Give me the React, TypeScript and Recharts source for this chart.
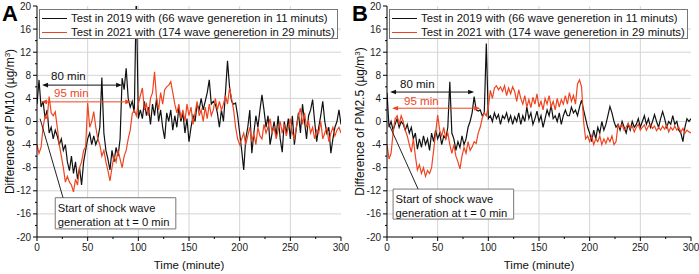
import React from "react";
import {
  LineChart,
  Line,
  XAxis,
  YAxis,
  CartesianGrid,
  ReferenceLine,
  ReferenceArea,
  Legend,
} from "recharts";

const FONT = '"Liberation Sans", Arial, Helvetica, sans-serif';
const BLACK = "#111111";
const ORANGE = "#f0441f";

const STEP = 2; // minutes between samples
const NAME_2019 = "Test in 2019 with (66 wave generetion in 11 minuts)";
const NAME_2021 = "Test in 2021 with (174 wave generetion in 29 minuts)";

// Panel A - PM10
const PM10_2019 = [
  3, 7.2, 2.5, 3.5, 0.5, 2, -2, -1, -3, -1.5,
  -2.5, -4, -3, -5, -4, -7, -8.5, -6, -9, -7,
  -10, -8, -11, -7, -5, -3, -2, -4, -2.5, -4,
  -3, -1, 7.6, -2, -5, -6.5, -8.4, -5, -7, -4.5,
  -6, -3, 7.5, 5.5, 9.2, 4, 2.5, 3.5, 1.5, 22,
  0.5, 2, 0.5, 3.5, 1, 2.5, -0.5, 3, 1, 4,
  0, 2, -1, -3, 1.5, 0, 2, -1.5, 1, -1,
  2.5, 0, 1.5, -2, 0.5, -3.5, -1, 1, 0, 3,
  2, 4, 2, 3.5, 5, 7.2, 3, 3.5, 3, 1.5,
  -1, 2, 0, 5, 10.5, 6, 3.5, 3, 3.2, 1,
  -2, -5, -8.4, -3, -1, 2, -5.5, -2, 1, -1,
  2, 4.6, 2, -1, 1, -4, -2, 0, -2.5, 1,
  -3, -5.3, 0, -2, 0.5, -3, 1, -4, -1, 1.5,
  -2, 3, 0, -3, 1, 2, 3.8, 0, -3.5, -1,
  1, 3.5, 0, -2, -1, -5.5, -3, -1, 0, 2,
  -0.5,
];
const PM10_2021 = [
  -4, -5.5, -4.5, -1, 1, 0.5, 4.3, 1.5, 1, 1.7,
  -1, -4, -6, -8, -10.5, -9.5, -10.5, -11, -12.2, -10,
  -11, -8, -7, -5, -4.4, 3.2, -1, 0, 1.7, -1,
  -3, -4, -6, -5, -7, -8.5, -10.3, -8, -6, -7,
  -5, -6.5, -8, -6, -5, -3, -1.5, 1.4, 2, 1,
  3, 4.5, 5.8, 2, 3, 1, 4, 5, 8.6, 4,
  2, 5, 3, 5.5, 6, 6.3, 6.9, 5, 3, 1.5,
  3, 0.5, 2, 0, 3, 1, 2.5, -0.5, 1.5, 3.5,
  1, 2, 0, 2.5, 0.5, 3, 1, 2, 4, 2,
  3.5, 2, 3, 4.5, 3, 5.8, 4, 2, -1, -3,
  -4, -3, -2, -4, -2.5, -1, -3.5, -2, -4, -1,
  -2.5, -3, -0.5, -2, -1, 0.5, -2, -1, -3, -1.5,
  0, -2, -0.5, -2.5, -1, 0.5, -2, -3, -1, 1,
  2.3, -0.5, 1.5, -1, 0, -2, -1, -3, -1.5, -2,
  0, -3, -2, -1, -3.5, -2, -1, -2.5, -1.5, -1,
  -2,
];

// Panel B - PM2.5
const PM25_2019 = [
  5, -1, 0, -1.5, -0.5, 0.5, -1, 0, -0.5, -1.5,
  -0.5, -2, -1, -3, -2, -4.8, -3, -4.5, -2.5, -4,
  -3, -5, -2, -3.5, -1.5, -3, -2, -4, -2.5, -3,
  -1, 6.9, -2, -3, -5, -3.5, -4.5, -2.5, -4, -3,
  -1, 0, 1.5, 4.3, 2, 1.8, 2, 1, 1.5, 13.5,
  0.5, 1, 0, 1.5, 0.5, 1.2, -0.5, 1, 0.5, 1.5,
  0, 1, -0.5, 0.8, 0, 1.5, -0.5, 1, 0, 2.5,
  0.5, 1.5, -0.5, 0.5, 1.8, 0, 1, -1, 0.5, 2,
  1, 2.8, 0.5, 1, 0, 1.5, -0.5, 1, 2, 1,
  1, 2.5, 1.5, 2, 1, 2.5, 3.7, 2, 0.5, -1,
  -2, -3.5, -1.5, -3, -1, -2, 0, -1.5, -0.5, 1,
  2.6, 1.5, 0, -1, -0.5, -1.5, 0, -1, -2, -0.5,
  -1.5, 0, -1, -0.5, 0.5, -1, 0, 1, -0.5, 0.5,
  -1, 0, 1.2, 0, -1, 0.5, 1.7, 0.5, -1, 0,
  -0.5, 1, -0.5, 0, -1.5, -2, -3.5, -1, 0.5, 0,
  0.5,
];
const PM25_2021 = [
  -4, -6.5, -5.5, -2, 0.5, 1, -0.5, 1, 0, -1.5,
  -2.5, -4, -5.3, -3, -6, -8.4, -7.5, -9, -8, -9.5,
  -8.5, -9, -8, -5, -2, 1.1, -1.5, -2.5, -1, -3,
  -2, -4, -5.5, -4, -6, -7, -8.2, -6, -4.5, -5.5,
  -3.5, -5, -4.4, -3.5, -3.8, -2, -1, 0.6, 1.5, 1,
  2.5, 5.4, 4, 5.8, 6.2, 5.5, 6, 5.2, 6.2, 4.5,
  5.8, 4.8, 6, 5.2, 3.5, 5.5, 4, 3, 4.5, 2.5,
  3.8, 2.4, 4.2, 3, 4.8, 2.5, 3.5, 2, 4, 3,
  4.5, 2.5, 3.5, 2, 4, 2.5, 3.8, 3, 4.5, 3,
  5, 3.5, 4.5, 3, 6.5, 7.2, 6, 0, -3, -2.5,
  -3.5, -2.5, -4, -3, -3.5, -2.5, -4, -3, -3.8, -2.8,
  -3.5, -2.5, -4, -3.5, -0.6, -1, -0.5, -1.5, -1, -0.3,
  -1.2, -0.8, -1.8, -1, -0.5, -1.5, -1, -0.6, -1.5, -0.8,
  -0.5, -1.2, -0.8, -1.6, -1, -1.5, -0.8, -1.3, -0.6, -1.8,
  -1, -1.5, -0.8, -1.5, -1, -1.8, -1.2, -2, -1.5, -1.8,
  -2,
];

const Y_TICKS = [-20, -18, -16, -14, -12, -10, -8, -6, -4, -2, 0, 2, 4, 6, 8, 10, 12, 14, 16, 18, 20];
const Y_GRID = [-16, -12, -8, -4, 0, 4, 8, 12, 16];
const X_TICKS = [0, 25, 50, 75, 100, 125, 150, 175, 200, 225, 250, 275, 300];
const X_GRID = [50, 100, 150, 200, 250];
const Y_MAJOR = [-20, -16, -12, -8, -4, 0, 4, 8, 12, 16, 20];
const X_MAJOR = [0, 50, 100, 150, 200, 250, 300];

const buildRows = (a: number[], b: number[]) =>
  a.map((v, i) => ({ t: i * STEP, y2019: v, y2021: b[i] }));

const YTick = (p: any) => {
  const { x, y, payload } = p;
  const major = payload.value % 4 === 0;
  return (
    <g>
      <line x1={x} x2={x - (major ? 4 : 2)} y1={y} y2={y} stroke="#000" />
      {major && (
        <text x={x - 6} y={y} dy={3.5} textAnchor="end" fontSize={10} fill="#222">
          {payload.value}
        </text>
      )}
    </g>
  );
};

const XTick = (p: any) => {
  const { x, y, payload } = p;
  const major = payload.value % 50 === 0;
  return (
    <g>
      <line x1={x} x2={x} y1={y} y2={y + (major ? 4 : 2)} stroke="#000" />
      {major && (
        <text x={x} y={y + 14} textAnchor="middle" fontSize={10} fill="#222">
          {payload.value}
        </text>
      )}
    </g>
  );
};

const TopTick = (p: any) =>
  X_MAJOR.includes(p.payload.value) ? (
    <line x1={p.x} x2={p.x} y1={p.y} y2={p.y + 3} stroke="#000" />
  ) : (
    <g />
  );

const RightTick = (p: any) =>
  Y_MAJOR.includes(p.payload.value) ? (
    <line x1={p.x} x2={p.x - 3} y1={p.y} y2={p.y} stroke="#000" />
  ) : (
    <g />
  );

const arrowShape = (a: any) => (p: any) => {
  const { x1, y1, x2, y2 } = p;
  const h = 6;
  const w = 2.3;
  return (
    <g>
      <line x1={x1 + 2} y1={y1} x2={x2 - 2} y2={y2} stroke={a.color} strokeWidth={1} />
      <path d={`M${x1},${y1} L${x1 + h},${y1 - w} L${x1 + h},${y1 + w} Z`} fill={a.color} />
      <path d={`M${x2},${y2} L${x2 - h},${y2 - w} L${x2 - h},${y2 + w} Z`} fill={a.color} />
      <text x={x1 + a.dx} y={y1 + a.dy} fill={a.color} fontSize={11.5}>
        {a.text}
      </text>
    </g>
  );
};

const LegendBox = (props: any) => (
  <div
    style={{
      width: 299,
      height: 30,
      boxSizing: "border-box",
      border: "1px solid #777",
      background: "#fff",
      fontSize: 11.3,
      color: "#111",
      paddingTop: 1,
    }}
  >
    {(props.payload || []).map((e: any) => (
      <div key={e.value} style={{ display: "flex", alignItems: "center", height: 14, whiteSpace: "nowrap" }}>
        <span style={{ display: "inline-block", width: 25, borderTop: `1.2px solid ${e.color}`, margin: "0 4px 0 2px" }} />
        <span>{e.value}</span>
      </div>
    ))}
  </div>
);

const Panel = ({ letter, species, rows, arrows, callout }: any) => {
  const yLabel = (p: any) => {
    const cy = p.viewBox.y + p.viewBox.height / 2;
    return (
      <text x={13.5} y={cy} transform={`rotate(-90, 13.5, ${cy})`} textAnchor="middle" fontSize={12} fill="#111">
        {`Difference of ${species} (µg/m`}
        <tspan dy={-4} fontSize={8}>3</tspan>
        <tspan dy={4}>)</tspan>
      </text>
    );
  };
  const xLabel = (p: any) => (
    <text x={p.viewBox.x + p.viewBox.width / 2} y={p.viewBox.y + 32} textAnchor="middle" fontSize={11.5} fill="#111">
      Time (minute)
    </text>
  );
  const calloutLabel = (p: any) => {
    const { x, y } = p.viewBox;
    return (
      <text fontSize={11.2} fill="#111">
        <tspan x={x + 2.5} y={y + 14}>Start of shock wave</tspan>
        <tspan x={x + 2.5} y={y + 28}>generation at t = 0 min</tspan>
      </text>
    );
  };

  return (
    <div style={{ position: "relative", width: 349, height: 274 }}>
      <LineChart width={349} height={274} data={rows} margin={{ top: 6, right: 8, left: 0, bottom: 0 }}>
        <CartesianGrid stroke="#d4d4d4" horizontalValues={Y_GRID} verticalValues={X_GRID} />
        <XAxis
          dataKey="t"
          type="number"
          domain={[0, 300]}
          allowDataOverflow
          ticks={X_TICKS}
          interval={0}
          height={37}
          stroke="#000"
          tickLine={false}
          tickSize={0}
          tickMargin={0}
          tick={<XTick />}
          label={xLabel}
        />
        <XAxis
          xAxisId="top"
          orientation="top"
          dataKey="t"
          type="number"
          domain={[0, 300]}
          allowDataOverflow
          ticks={X_TICKS}
          interval={0}
          height={0}
          stroke="#000"
          tickLine={false}
          tickSize={0}
          tickMargin={0}
          tick={<TopTick />}
        />
        <YAxis
          type="number"
          domain={[-20, 20]}
          allowDataOverflow
          ticks={Y_TICKS}
          interval={0}
          width={37}
          stroke="#000"
          tickLine={false}
          tickSize={0}
          tickMargin={0}
          tick={<YTick />}
          label={yLabel}
        />
        <YAxis
          yAxisId="right"
          orientation="right"
          type="number"
          domain={[-20, 20]}
          allowDataOverflow
          ticks={Y_TICKS}
          interval={0}
          width={0}
          stroke="#000"
          tickLine={false}
          tickSize={0}
          tickMargin={0}
          tick={<RightTick />}
        />
        <Line
          dataKey="y2019"
          name={NAME_2019}
          stroke={BLACK}
          strokeWidth={1.2}
          dot={false}
          type="linear"
          isAnimationActive={false}
        />
        <Line
          dataKey="y2021"
          name={NAME_2021}
          stroke={ORANGE}
          strokeWidth={1.2}
          dot={false}
          type="linear"
          isAnimationActive={false}
        />
        {arrows.map((a: any) => (
          <ReferenceLine
            key={a.text}
            segment={[
              { x: a.from, y: a.y },
              { x: a.to, y: a.y },
            ]}
            shape={arrowShape(a)}
          />
        ))}
        <ReferenceLine
          segment={[
            { x: callout.lineFrom[0], y: callout.lineFrom[1] },
            { x: callout.lineTo[0], y: callout.lineTo[1] },
          ]}
          stroke="#222"
          strokeWidth={1}
        />
        <ReferenceArea
          x1={callout.x1}
          x2={callout.x2}
          y1={callout.y1}
          y2={callout.y2}
          fill="#fff"
          fillOpacity={1}
          stroke="#777"
          strokeWidth={1}
          label={calloutLabel}
        />
        <Legend
          layout="horizontal"
          verticalAlign="middle"
          align="center"
          wrapperStyle={{ top: 9, left: 39, width: 299, height: 30 }}
          content={<LegendBox />}
        />
      </LineChart>
      <div
        style={{
          position: "absolute",
          left: 2,
          top: 3,
          fontSize: 22,
          lineHeight: "22px",
          fontWeight: "bold",
          color: "#000",
        }}
      >
        {letter}
      </div>
    </div>
  );
};

const ARROWS_A = [
  { from: 5, to: 84, y: 6.3, text: "80 min", color: BLACK, dx: 9, dy: -5 },
  { from: 4, to: 93, y: 3.4, text: "95 min", color: ORANGE, dx: 13, dy: -5 },
];
const ARROWS_B = [
  { from: 3, to: 86, y: 5.1, text: "80 min", color: BLACK, dx: 10, dy: -4 },
  { from: 5, to: 92, y: 2.3, text: "95 min", color: ORANGE, dx: 12, dy: -3 },
];
const CALLOUT_A = { x1: 18, x2: 137, y1: -18.6, y2: -13.2, lineFrom: [25.7, -13.2], lineTo: [3, 0.5] };
const CALLOUT_B = { x1: 6, x2: 125, y1: -16.9, y2: -11.7, lineFrom: [30.7, -11.7], lineTo: [2, -0.5] };

export default function App() {
  return (
    <div
      style={{
        position: "absolute",
        left: 0,
        top: 0,
        width: 699,
        height: 274,
        background: "#fff",
        fontFamily: FONT,
      }}
    >
      <div style={{ position: "absolute", left: 0, top: 0 }}>
        <Panel letter="A" species="PM10" rows={buildRows(PM10_2019, PM10_2021)} arrows={ARROWS_A} callout={CALLOUT_A} />
      </div>
      <div style={{ position: "absolute", left: 350, top: 0 }}>
        <Panel letter="B" species="PM2.5" rows={buildRows(PM25_2019, PM25_2021)} arrows={ARROWS_B} callout={CALLOUT_B} />
      </div>
    </div>
  );
}
